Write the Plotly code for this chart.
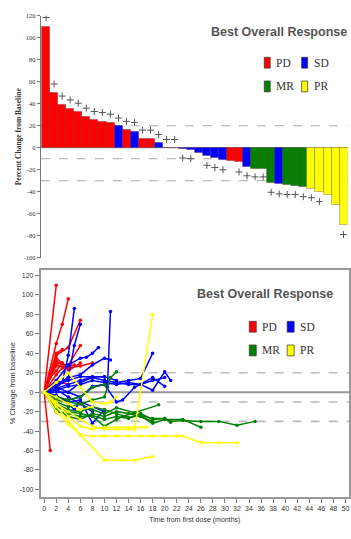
import plotly.graph_objects as go

# ---------------- Waterfall data ----------------
patient_idx = list(range(38))
best_change = [110, 50, 39, 35.5, 32.5, 28.5, 25.5, 24, 22.5, 19.5, 16.5, 14.5, 8.5, 7.8, 4.5,
               0, 0, -0.8, -1.5, -4.5, -7.5, -9.5, -11, -12, -13, -17, -19, -19.5, -32, -33,
               -34, -34.5, -36, -37.5, -40, -42.5, -52, -70]
response = ['PD'] * 9 + ['SD', 'PD', 'SD', 'PD', 'PD', 'SD', 'SD', 'SD', 'SD', 'SD', 'SD', 'SD',
                         'SD', 'SD', 'PD', 'PD', 'SD', 'MR', 'MR', 'MR', 'SD', 'MR', 'MR', 'MR',
                         'PR', 'PR', 'PR', 'PR', 'PR']
plus_marks = [118.5, 58, 47, 43.5, 40.5, 36, 33, 32, 30.5, 27, 24, 23, 16, 16, 12, 7.5, 7.5,
              -9.3, -10, None, -16, -18, -20, None, -22, -25.5, -26.5, -26.5, -40.5, -42,
              -42.5, -42.5, -44.5, -45.5, -49, None, None, -79]
y_ticks = [-100, -80, -60, -40, -20, 0, 20, 40, 60, 80, 100, 120]
y_ticktext = ['-100', '-80', '-60', '-40', '-20', '0', '20', '40', '60', '80', '100', '120']
x2_ticks = list(range(0, 51, 2))
ref_levels = [20, -10, -30]

# ---------------- Spider data (months, % change) ----------------
pd_months = [[0, 2], [0, 2, 3, 4], [0, 1], [0, 2, 4, 6], [0, 2, 4, 6], [0, 2, 3, 4, 6],
             [0, 2, 4, 6, 8], [0, 2, 3], [0, 2, 4], [0, 1, 2], [0, 2, 4], [0, 2, 4],
             [0, 1, 2, 3], [0, 2, 3, 5]]
pd_values = [[0, 110], [0, 50, 70, 96], [0, -60], [0, 38, 46, 74], [0, 30, 28, 48],
             [0, 35, 30, 22, 30], [0, 28, 25, 27, 30], [0, 40, 44], [0, 32, 25], [0, 20, 27],
             [0, 12, 8], [0, -5, -12], [0, 15, 22, 30], [0, 18, 25, 28]]

sd_months = [[0, 2, 3, 4, 5], [0, 2, 4, 5, 6], [0, 2, 4, 6, 7, 8, 9], [0, 2, 4, 6, 8, 10, 11],
             [0, 2, 4, 6, 8, 10, 10.5, 11], [0, 2, 4, 6, 8, 10, 12, 14, 16, 18],
             [0, 2, 4, 6, 8, 10, 12, 14, 16, 18, 20, 21], [0, 2, 4, 6, 8, 10, 12, 13, 15, 18, 20],
             [0, 2, 4, 6, 8, 10], [0, 2, 4, 5, 6, 8, 10], [0, 1, 2, 4, 6, 8],
             [0, 2, 4, 6, 8, 10, 12], [0, 4, 6, 8, 10, 12, 14, 16, 18, 20]]
sd_values = [[0, 5, 10, 38, 86], [0, 5, 15, 48, 70], [0, 12, 28, 35, 36, 40, 46],
             [0, 8, 15, 18, 28, 35, 33], [0, 4, 8, 12, 16, 16, 5, 83],
             [0, 5, 0, 10, 15, 12, 10, 12, 14, 40], [0, 2, 6, 8, 12, 10, 8, 10, 8, 2, 21, 12],
             [0, -5, -8, -5, 5, 8, -10, -8, 5, 15, 6], [0, -5, -10, -8, -32, -18],
             [0, -3, -12, -18, -10, -15, -20], [0, 5, 3, -5, -12, -20],
             [0, 8, 12, 16, 16, 16, 12], [0, 0, -5, 6, 8, 10, 8, 8, 12, 15]]

mr_months = [[0, 2, 4, 6, 8, 10, 11, 12],
             [0, 2, 4, 6, 8, 10, 12, 14, 16, 18, 20, 21, 23, 26, 29, 32, 35],
             [0, 2, 4, 6, 8, 10, 12, 13, 15, 18, 20, 23, 26],
             [0, 2, 4, 6, 8, 10, 12, 15, 19], [0, 2, 4, 6, 8, 10, 12, 14, 16, 18],
             [0, 2, 4, 6, 8, 10], [0, 2, 4, 6, 8, 10, 12, 14, 16, 18, 20, 21]]
mr_values = [[0, -10, -15, -12, -8, -5, 15, 21],
             [0, -20, -22, -25, -24, -28, -25, -27, -22, -28, -27, -30, -29, -30, -30, -34, -30],
             [0, -15, -20, -22, -25, -35, -28, -25, -21, -32, -28, -28, -36],
             [0, -8, -10, -12, -18, -22, -16, -21, -13], [0, -18, -25, -28, -22, -25, -20, -22, -25, -30],
             [0, -5, -8, -5, 5, 8], [0, -12, -18, -20, -15, -18, -22, -26, -24, -27, -27, -31]]

pr_months = [[0, 2, 4, 6, 8, 10, 12, 14, 15, 18],
             [0, 2, 4, 6, 8, 10, 12, 14, 16, 18, 20, 22, 23, 26, 29, 32],
             [0, 2, 4, 6, 10, 13, 15, 18], [0, 2, 4, 6, 8, 10, 11, 12],
             [0, 2, 4, 6, 8, 10, 12, 14, 16, 17], [0, 2, 4, 6, 8]]
pr_values = [[0, -12, -20, -28, -35, -38, -38, -38, -38, 80],
             [0, -15, -30, -44, -45, -45, -45, -45, -45, -45, -45, -45, -45, -52, -52, -52],
             [0, -20, -33, -44, -70, -70, -70, -66], [0, 10, 20, 5, -10, -12, -10, -5],
             [0, -10, -25, -35, -38, -36, -36, -36, -36, -36], [0, -5, -12, -18, -15]]

colors = {'PD': '#ff0000', 'SD': '#0000ff', 'MR': '#008000', 'PR': '#ffff00'}
W, H = 351, 539


def px(x):
    return x / W


def py(y):
    return 1 - y / H


fig = go.Figure()

# Waterfall bars
fig.add_trace(go.Bar(
    x=patient_idx, y=best_change,
    marker=dict(color=[colors[r] for r in response],
                line=dict(color='rgba(60,0,0,0.45)', width=0.6)),
    xaxis='x', yaxis='y', showlegend=False, width=1.0))
fig.add_trace(go.Scatter(
    x=patient_idx, y=plus_marks, mode='markers',
    marker=dict(symbol='cross-thin', size=5, line=dict(color='#555555', width=1)),
    xaxis='x', yaxis='y', showlegend=False))

# Spider lines
for grp, mlist, vlist in [('PD', pd_months, pd_values), ('SD', sd_months, sd_values),
                          ('MR', mr_months, mr_values), ('PR', pr_months, pr_values)]:
    for m, v in zip(mlist, vlist):
        fig.add_trace(go.Scatter(
            x=m, y=v, mode='lines+markers',
            line=dict(color=colors[grp], width=1.5),
            marker=dict(color=colors[grp], size=3.5),
            xaxis='x2', yaxis='y2', showlegend=False))

shapes = []
# reference lines top
shapes.append(dict(type='line', xref='x domain', x0=0, x1=1, yref='y', y0=0, y1=0,
                   line=dict(color='#999999', width=1), layer='below'))
for lv in ref_levels:
    shapes.append(dict(type='line', xref='x domain', x0=0, x1=1, yref='y', y0=lv, y1=lv,
                       line=dict(color='#aaaaaa', width=1, dash='dash'), layer='below'))
# reference lines bottom
shapes.append(dict(type='line', xref='x2 domain', x0=0, x1=1, yref='y2', y0=0, y1=0,
                   line=dict(color='#999999', width=2), layer='below'))
for lv in ref_levels:
    shapes.append(dict(type='line', xref='x2 domain', x0=0, x1=1, yref='y2', y0=lv, y1=lv,
                       line=dict(color='#bbbbbb', width=1.6, dash='dash'), layer='below'))

annotations = []
legend_font = dict(family='Liberation Serif, Times New Roman, serif', size=11.5, color='#333333')
title_font = dict(family='Liberation Sans, Arial, sans-serif', size=12.5,
                  color='#555555', weight='bold')


def add_legend(cx, cy, col_x, row_y, bw, bh, text_dx):
    annotations.append(dict(text='Best Overall Response', x=px(cx), y=py(cy), xref='paper',
                            yref='paper', showarrow=False, font=title_font,
                            xanchor='center', yanchor='middle'))
    items = [('PD', 0, 0), ('SD', 1, 0), ('MR', 0, 1), ('PR', 1, 1)]
    for lab, c, r in items:
        x0 = col_x[c]
        yc = row_y[r]
        shapes.append(dict(type='rect', xref='paper', yref='paper', x0=px(x0), x1=px(x0 + bw),
                           y0=py(yc + bh / 2), y1=py(yc - bh / 2), fillcolor=colors[lab],
                           line=dict(color='#333333', width=0.7)))
        annotations.append(dict(text=lab, x=px(x0 + text_dx), y=py(yc), xref='paper',
                                yref='paper', showarrow=False, font=legend_font,
                                xanchor='left', yanchor='middle'))


add_legend(280, 28, [265, 302.5], [59.5, 83.5], 6, 11, 10)
add_legend(266, 294, [250, 288], [327, 351], 7, 11, 11)

fig.update_layout(
    width=W, height=H, margin=dict(l=0, r=0, t=0, b=0),
    paper_bgcolor='white', plot_bgcolor='white', bargap=0,
    shapes=shapes, annotations=annotations,
    xaxis=dict(domain=[px(41), px(348.5)], range=[-0.65, 37.5], visible=False),
    yaxis=dict(domain=[py(257), py(12)], range=[-100, 120], tickvals=y_ticks,
               ticktext=y_ticktext, showline=True, linecolor='#777777', linewidth=1,
               ticks='outside', ticklen=3, tickcolor='#777777', showgrid=False,
               zeroline=False,
               tickfont=dict(family='Liberation Serif, serif', size=6.5, color='#333333'),
               title=dict(text='Percent Change from Baseline', standoff=1,
                          font=dict(family='Liberation Serif, serif', size=7.5,
                                    color='#333333', weight='bold'))),
    xaxis2=dict(domain=[px(40.7), px(350)], range=[-0.6, 50.6], tickvals=x2_ticks,
                anchor='y2', showline=True, mirror=True, linecolor='#999999', linewidth=1.5,
                ticks='outside', ticklen=4, tickcolor='#777777', showgrid=False,
                zeroline=False,
                tickfont=dict(family='Liberation Sans, Arial', size=7, color='#333333'),
                title=dict(text='Time from first dose (months)', standoff=6,
                           font=dict(family='Liberation Sans, Arial', size=7, color='#333333'))),
    yaxis2=dict(domain=[py(499.5), py(269)], range=[-107.8, 126.2], tickvals=y_ticks,
                ticktext=y_ticktext, anchor='x2', showline=True, mirror=True,
                linecolor='#999999', linewidth=1.5, ticks='outside', ticklen=4,
                tickcolor='#777777', showgrid=False, zeroline=False,
                tickfont=dict(family='Liberation Sans, Arial', size=7, color='#333333'),
                title=dict(text='% Change from baseline', standoff=3,
                           font=dict(family='Liberation Sans, Arial', size=7.5,
                                     color='#333333'))),
)

fig.write_html('out.html')
